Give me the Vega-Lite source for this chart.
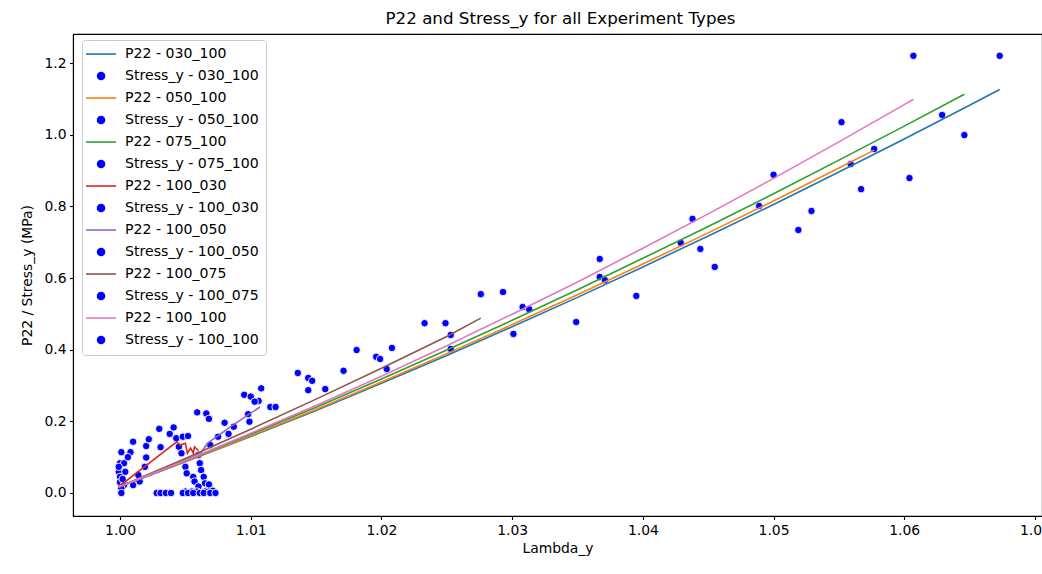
{
  "$schema": "https://vega.github.io/schema/vega-lite/v6.json",
  "autosize": {"type": "none"},
  "padding": {"left": 73, "top": 34, "right": 0, "bottom": 58},
  "width": 969,
  "height": 482,
  "background": "white",
  "title": {"text": "P22 and Stress_y for all Experiment Types", "font": "DejaVu Sans", "fontSize": 16.7, "fontWeight": "normal", "color": "black", "anchor": "middle", "offset": 8, "baseline": "alphabetic", "dx": 3, "dy": 15},
  "config": {
    "view": {"stroke": "black", "strokeWidth": 1.1},
    "axis": {"grid": false, "domainColor": "black", "domainWidth": 1.1, "tickColor": "black", "tickSize": 3.5, "tickWidth": 1.1, "labelFont": "DejaVu Sans", "labelFontSize": 13.9, "labelColor": "black", "labelPadding": 3.5, "titleFont": "DejaVu Sans", "titleFontSize": 13.9, "titleFontWeight": "normal", "titleColor": "black"}
  },
  "datasets": {
    "lines": [
      {"label": "P22 - 030_100", "i": 0, "x": 0.9999, "y": 0.017},
      {"label": "P22 - 030_100", "i": 1, "x": 1.0025, "y": 0.052},
      {"label": "P22 - 030_100", "i": 2, "x": 1.005, "y": 0.087},
      {"label": "P22 - 030_100", "i": 3, "x": 1.01, "y": 0.158},
      {"label": "P22 - 030_100", "i": 4, "x": 1.015, "y": 0.23},
      {"label": "P22 - 030_100", "i": 5, "x": 1.02, "y": 0.306},
      {"label": "P22 - 030_100", "i": 6, "x": 1.025, "y": 0.384},
      {"label": "P22 - 030_100", "i": 7, "x": 1.03, "y": 0.464},
      {"label": "P22 - 030_100", "i": 8, "x": 1.035, "y": 0.546},
      {"label": "P22 - 030_100", "i": 9, "x": 1.04, "y": 0.631},
      {"label": "P22 - 030_100", "i": 10, "x": 1.045, "y": 0.717},
      {"label": "P22 - 030_100", "i": 11, "x": 1.05, "y": 0.805},
      {"label": "P22 - 030_100", "i": 12, "x": 1.055, "y": 0.896},
      {"label": "P22 - 030_100", "i": 13, "x": 1.06, "y": 0.988},
      {"label": "P22 - 030_100", "i": 14, "x": 1.065, "y": 1.082},
      {"label": "P22 - 030_100", "i": 15, "x": 1.0673, "y": 1.126},
      {"label": "P22 - 050_100", "i": 0, "x": 0.9999, "y": 0.017},
      {"label": "P22 - 050_100", "i": 1, "x": 1.005, "y": 0.088},
      {"label": "P22 - 050_100", "i": 2, "x": 1.01, "y": 0.16},
      {"label": "P22 - 050_100", "i": 3, "x": 1.015, "y": 0.233},
      {"label": "P22 - 050_100", "i": 4, "x": 1.02, "y": 0.31},
      {"label": "P22 - 050_100", "i": 5, "x": 1.025, "y": 0.389},
      {"label": "P22 - 050_100", "i": 6, "x": 1.03, "y": 0.47},
      {"label": "P22 - 050_100", "i": 7, "x": 1.035, "y": 0.553},
      {"label": "P22 - 050_100", "i": 8, "x": 1.04, "y": 0.639},
      {"label": "P22 - 050_100", "i": 9, "x": 1.045, "y": 0.726},
      {"label": "P22 - 050_100", "i": 10, "x": 1.05, "y": 0.815},
      {"label": "P22 - 050_100", "i": 11, "x": 1.055, "y": 0.907},
      {"label": "P22 - 050_100", "i": 12, "x": 1.0577, "y": 0.957},
      {"label": "P22 - 075_100", "i": 0, "x": 0.9999, "y": 0.017},
      {"label": "P22 - 075_100", "i": 1, "x": 1.005, "y": 0.09},
      {"label": "P22 - 075_100", "i": 2, "x": 1.01, "y": 0.164},
      {"label": "P22 - 075_100", "i": 3, "x": 1.015, "y": 0.239},
      {"label": "P22 - 075_100", "i": 4, "x": 1.02, "y": 0.318},
      {"label": "P22 - 075_100", "i": 5, "x": 1.025, "y": 0.399},
      {"label": "P22 - 075_100", "i": 6, "x": 1.03, "y": 0.482},
      {"label": "P22 - 075_100", "i": 7, "x": 1.035, "y": 0.567},
      {"label": "P22 - 075_100", "i": 8, "x": 1.04, "y": 0.655},
      {"label": "P22 - 075_100", "i": 9, "x": 1.045, "y": 0.744},
      {"label": "P22 - 075_100", "i": 10, "x": 1.05, "y": 0.835},
      {"label": "P22 - 075_100", "i": 11, "x": 1.055, "y": 0.929},
      {"label": "P22 - 075_100", "i": 12, "x": 1.06, "y": 1.024},
      {"label": "P22 - 075_100", "i": 13, "x": 1.0646, "y": 1.113},
      {"label": "P22 - 100_030", "i": 0, "x": 0.9999, "y": 0.018},
      {"label": "P22 - 100_030", "i": 1, "x": 1.00434, "y": 0.143},
      {"label": "P22 - 100_030", "i": 2, "x": 1.0046, "y": 0.134},
      {"label": "P22 - 100_030", "i": 3, "x": 1.005, "y": 0.139},
      {"label": "P22 - 100_030", "i": 4, "x": 1.00515, "y": 0.111},
      {"label": "P22 - 100_030", "i": 5, "x": 1.0054, "y": 0.125},
      {"label": "P22 - 100_030", "i": 6, "x": 1.0056, "y": 0.111},
      {"label": "P22 - 100_030", "i": 7, "x": 1.0057, "y": 0.129},
      {"label": "P22 - 100_030", "i": 8, "x": 1.006, "y": 0.118},
      {"label": "P22 - 100_050", "i": 0, "x": 0.9999, "y": 0.017},
      {"label": "P22 - 100_050", "i": 1, "x": 1.003, "y": 0.061},
      {"label": "P22 - 100_050", "i": 2, "x": 1.006, "y": 0.108},
      {"label": "P22 - 100_050", "i": 3, "x": 1.0063, "y": 0.118},
      {"label": "P22 - 100_050", "i": 4, "x": 1.0067, "y": 0.139},
      {"label": "P22 - 100_050", "i": 5, "x": 1.0085, "y": 0.186},
      {"label": "P22 - 100_050", "i": 6, "x": 1.0107, "y": 0.24},
      {"label": "P22 - 100_075", "i": 0, "x": 0.9999, "y": 0.017},
      {"label": "P22 - 100_075", "i": 1, "x": 1.005, "y": 0.096},
      {"label": "P22 - 100_075", "i": 2, "x": 1.01, "y": 0.178},
      {"label": "P22 - 100_075", "i": 3, "x": 1.015, "y": 0.262},
      {"label": "P22 - 100_075", "i": 4, "x": 1.02, "y": 0.348},
      {"label": "P22 - 100_075", "i": 5, "x": 1.025, "y": 0.437},
      {"label": "P22 - 100_075", "i": 6, "x": 1.0276, "y": 0.488},
      {"label": "P22 - 100_100", "i": 0, "x": 0.9999, "y": 0.017},
      {"label": "P22 - 100_100", "i": 1, "x": 1.005, "y": 0.091},
      {"label": "P22 - 100_100", "i": 2, "x": 1.01, "y": 0.167},
      {"label": "P22 - 100_100", "i": 3, "x": 1.015, "y": 0.244},
      {"label": "P22 - 100_100", "i": 4, "x": 1.02, "y": 0.326},
      {"label": "P22 - 100_100", "i": 5, "x": 1.025, "y": 0.411},
      {"label": "P22 - 100_100", "i": 6, "x": 1.03, "y": 0.499},
      {"label": "P22 - 100_100", "i": 7, "x": 1.035, "y": 0.589},
      {"label": "P22 - 100_100", "i": 8, "x": 1.04, "y": 0.683},
      {"label": "P22 - 100_100", "i": 9, "x": 1.045, "y": 0.779},
      {"label": "P22 - 100_100", "i": 10, "x": 1.05, "y": 0.878},
      {"label": "P22 - 100_100", "i": 11, "x": 1.055, "y": 0.98},
      {"label": "P22 - 100_100", "i": 12, "x": 1.06, "y": 1.084},
      {"label": "P22 - 100_100", "i": 13, "x": 1.0607, "y": 1.099}
    ],
    "points": [
      {"x": 1.0607, "y": 1.22}, {"x": 1.0673, "y": 1.22}, {"x": 1.0629, "y": 1.055}, {"x": 1.0646, "y": 0.999},
      {"x": 1.0552, "y": 1.035}, {"x": 1.0577, "y": 0.96}, {"x": 1.0559, "y": 0.918}, {"x": 1.0604, "y": 0.879},
      {"x": 1.0567, "y": 0.848}, {"x": 1.05, "y": 0.888}, {"x": 1.0529, "y": 0.787}, {"x": 1.0519, "y": 0.734},
      {"x": 1.0489, "y": 0.801}, {"x": 1.0438, "y": 0.765}, {"x": 1.0429, "y": 0.698}, {"x": 1.0444, "y": 0.681},
      {"x": 1.0455, "y": 0.631}, {"x": 1.0367, "y": 0.653}, {"x": 1.0367, "y": 0.603}, {"x": 1.0371, "y": 0.594},
      {"x": 1.0395, "y": 0.55}, {"x": 1.0349, "y": 0.477}, {"x": 1.0308, "y": 0.519}, {"x": 1.0313, "y": 0.513},
      {"x": 1.0276, "y": 0.555}, {"x": 1.0293, "y": 0.561}, {"x": 1.0301, "y": 0.444}, {"x": 1.0233, "y": 0.474},
      {"x": 1.0249, "y": 0.474}, {"x": 1.0253, "y": 0.441}, {"x": 1.0253, "y": 0.402}, {"x": 1.0181, "y": 0.399},
      {"x": 1.0196, "y": 0.38}, {"x": 1.0199, "y": 0.374}, {"x": 1.0208, "y": 0.405}, {"x": 1.0204, "y": 0.346},
      {"x": 1.0171, "y": 0.341}, {"x": 1.0136, "y": 0.335}, {"x": 1.0144, "y": 0.321}, {"x": 1.0147, "y": 0.313},
      {"x": 1.0144, "y": 0.287}, {"x": 1.0157, "y": 0.29}, {"x": 1.0115, "y": 0.24}, {"x": 1.0119, "y": 0.24},
      {"x": 1.0108, "y": 0.292}, {"x": 1.0095, "y": 0.274}, {"x": 1.01, "y": 0.269}, {"x": 1.0106, "y": 0.257},
      {"x": 1.0103, "y": 0.255}, {"x": 1.0098, "y": 0.22}, {"x": 1.0099, "y": 0.199}, {"x": 1.008, "y": 0.196},
      {"x": 1.0087, "y": 0.185}, {"x": 1.0075, "y": 0.157}, {"x": 1.0083, "y": 0.165}, {"x": 1.0069, "y": 0.134},
      {"x": 1.0059, "y": 0.225}, {"x": 1.0066, "y": 0.222}, {"x": 1.0068, "y": 0.207},
      {"x": 1.0001, "y": 0.114}, {"x": 1.0008, "y": 0.114}, {"x": 1.0006, "y": 0.1}, {"x": 1.0, "y": 0.083},
      {"x": 1.0003, "y": 0.083}, {"x": 0.9999, "y": 0.059}, {"x": 1.0004, "y": 0.059}, {"x": 1.0, "y": 0.045},
      {"x": 1.0, "y": 0.03}, {"x": 1.0003, "y": 0.022}, {"x": 1.0001, "y": 0.013}, {"x": 1.0001, "y": 0.0},
      {"x": 0.9999, "y": 0.073}, {"x": 1.0002, "y": 0.039}, {"x": 1.001, "y": 0.022}, {"x": 1.0014, "y": 0.05},
      {"x": 1.0015, "y": 0.032}, {"x": 1.0019, "y": 0.073}, {"x": 1.002, "y": 0.099}, {"x": 1.002, "y": 0.131},
      {"x": 1.0022, "y": 0.15}, {"x": 1.001, "y": 0.143}, {"x": 1.003, "y": 0.179}, {"x": 1.0031, "y": 0.128},
      {"x": 1.0041, "y": 0.183}, {"x": 1.0038, "y": 0.165}, {"x": 1.0043, "y": 0.153}, {"x": 1.0048, "y": 0.157},
      {"x": 1.0045, "y": 0.129}, {"x": 1.0052, "y": 0.159}, {"x": 1.0047, "y": 0.111}, {"x": 1.006, "y": 0.106},
      {"x": 1.0061, "y": 0.083}, {"x": 1.005, "y": 0.073}, {"x": 1.0062, "y": 0.064}, {"x": 1.0051, "y": 0.055},
      {"x": 1.0056, "y": 0.045}, {"x": 1.0064, "y": 0.045}, {"x": 1.0057, "y": 0.032}, {"x": 1.0065, "y": 0.027},
      {"x": 1.006, "y": 0.018}, {"x": 1.0069, "y": 0.013}, {"x": 1.0068, "y": 0.024}, {"x": 1.005, "y": 0.004},
      {"x": 1.0055, "y": 0.004}, {"x": 1.0059, "y": 0.004}, {"x": 1.0065, "y": 0.004}, {"x": 1.0071, "y": 0.006},
      {"x": 1.0028, "y": 0.0}, {"x": 1.0031, "y": 0.0}, {"x": 1.0035, "y": 0.0}, {"x": 1.0039, "y": 0.0},
      {"x": 1.0048, "y": 0.0}, {"x": 1.0052, "y": 0.0}, {"x": 1.0056, "y": 0.0}, {"x": 1.0061, "y": 0.0},
      {"x": 1.0064, "y": 0.0}, {"x": 1.0069, "y": 0.0}, {"x": 1.0073, "y": 0.0}
    ]
  },
  "encoding": {
    "x": {"field": "x", "type": "quantitative", "title": "Lambda_y",
      "scale": {"domain": [0.9964, 1.07054], "nice": false, "zero": false},
      "axis": {"values": [1.0, 1.01, 1.02, 1.03, 1.04, 1.05, 1.06, 1.07], "format": ".2f", "titlePadding": 5}},
    "y": {"field": "y", "type": "quantitative", "title": "P22 / Stress_y (MPa)",
      "scale": {"domain": [-0.0642, 1.281], "nice": false, "zero": false},
      "axis": {"values": [0, 0.2, 0.4, 0.6, 0.8, 1.0, 1.2], "format": ".1f", "titlePadding": 9}}
  },
  "layer": [
    {
      "data": {"name": "points"},
      "mark": {"type": "point", "filled": true, "fill": "#0000ff", "stroke": "white", "strokeWidth": 0.9, "size": 56, "opacity": 1, "clip": true}
    },
    {
      "data": {"name": "lines"},
      "mark": {"type": "line", "strokeWidth": 1.6, "clip": true},
      "encoding": {
        "order": {"field": "i", "type": "quantitative"},
        "color": {"field": "label", "type": "nominal",
          "scale": {
            "domain": ["P22 - 030_100", "Stress_y - 030_100", "P22 - 050_100", "Stress_y - 050_100", "P22 - 075_100", "Stress_y - 075_100", "P22 - 100_030", "Stress_y - 100_030", "P22 - 100_050", "Stress_y - 100_050", "P22 - 100_075", "Stress_y - 100_075", "P22 - 100_100", "Stress_y - 100_100"],
            "range": ["#1f77b4", "#0000ff", "#ff7f0e", "#0000ff", "#2ca02c", "#0000ff", "#d62728", "#0000ff", "#9467bd", "#0000ff", "#8c564b", "#0000ff", "#e377c2", "#0000ff"]
          },
          "legend": {
            "title": null, "orient": "none", "legendX": 9, "legendY": 6,
            "labelFont": "DejaVu Sans", "labelFontSize": 14.1, "labelColor": "black",
            "symbolSize": 49, "symbolStrokeWidth": 1.6, "symbolOffset": 5, "labelOffset": 17,
            "rowPadding": 7, "padding": 7,
            "fillColor": "rgba(255,255,255,0.8)", "strokeColor": "#cccccc", "cornerRadius": 3,
            "encode": {
              "symbols": {
                "update": {
                  "shape": {"signal": "indexof(datum.value,'P22')==0 ? 'M-4.3,0H4.3' : 'circle'"},
                  "stroke": {"signal": "indexof(datum.value,'P22')==0 ? scale('color', datum.value) : 'transparent'"},
                  "fill": {"signal": "indexof(datum.value,'P22')==0 ? 'transparent' : '#0000ff'"},
                  "opacity": {"value": 1}
                }
              }
            }
          }
        }
      }
    }
  ]
}
